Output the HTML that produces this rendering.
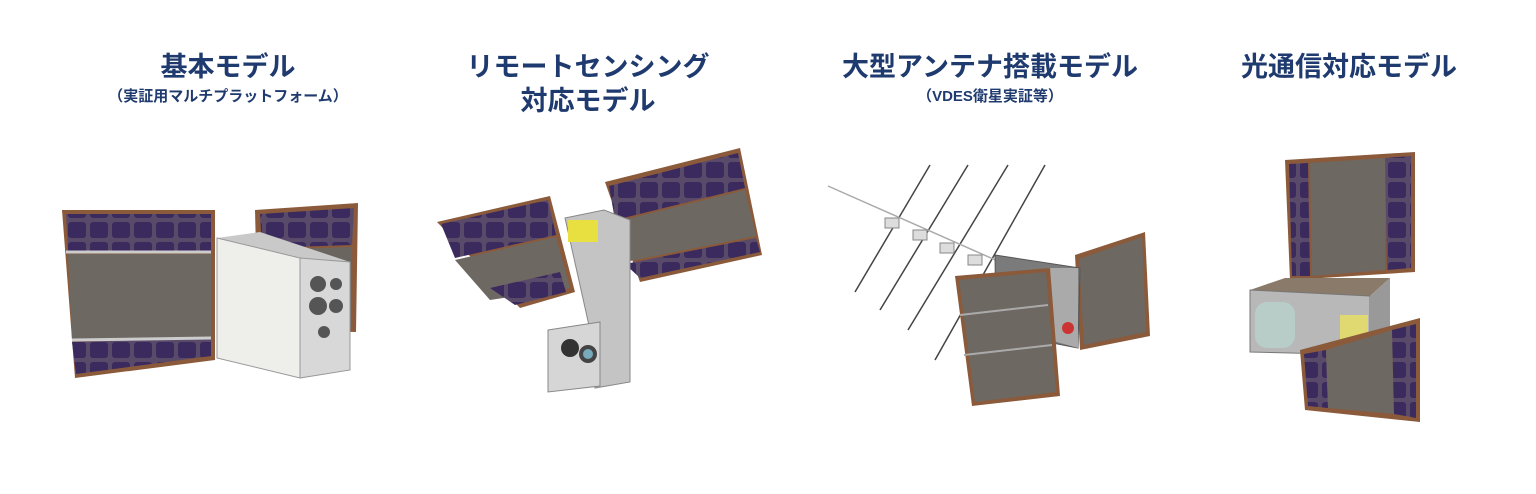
<!DOCTYPE html>
<html><head><meta charset="utf-8"><style>
html,body{margin:0;padding:0;background:#fff;width:1536px;height:494px;overflow:hidden}
svg{display:block}
text{font-family:"Liberation Sans","Noto Sans CJK JP",sans-serif;font-weight:bold;fill:#1f3a6e;text-anchor:middle}
</style></head><body>
<svg width="1536" height="494" viewBox="0 0 1536 494" xmlns="http://www.w3.org/2000/svg">
<defs>
<pattern id="cells" width="22" height="20" patternUnits="userSpaceOnUse">
<rect width="22" height="20" fill="#5a4a6a"/><rect x="2" y="2" width="18" height="16" rx="3" fill="#3a2a5e"/>
</pattern>
</defs>
<text x="228" y="76" font-size="27">基本モデル</text>
<text x="228" y="101" font-size="15">（実証用マルチプラットフォーム）</text>
<text x="588" y="76" font-size="27">リモートセンシング</text>
<text x="588" y="110" font-size="27">対応モデル</text>
<text x="990" y="76" font-size="27">大型アンテナ搭載モデル</text>
<text x="990" y="101" font-size="15">（VDES衛星実証等）</text>
<text x="1349" y="76" font-size="27">光通信対応モデル</text>

<!-- Satellite 1 -->
<polygon points="255,210 358,203 356,332 258,330" fill="#8a5a3a"/>
<polygon points="260,214 354,208 352,245 262,248" fill="url(#cells)"/>
<polygon points="262,250 352,247 351,328 262,326" fill="#6b6560"/>
<polygon points="62,210 215,210 215,360 75,378" fill="#8a5a3a"/>
<polygon points="66,214 211,214 211,252 68,252" fill="url(#cells)"/>
<polygon points="68,254 211,254 211,338 72,340" fill="#6e6862"/>
<polygon points="72,342 211,338 211,356 76,374" fill="url(#cells)"/>
<line x1="66" y1="252" x2="211" y2="252" stroke="#ccc" stroke-width="3"/>
<line x1="72" y1="340" x2="211" y2="338" stroke="#ccc" stroke-width="3"/>
<polygon points="217,238 260,232 350,262 300,258" fill="#c9c9c9"/>
<polygon points="217,238 300,258 300,378 217,358" fill="#eeeeea" stroke="#999"/>
<polygon points="300,258 350,262 350,370 300,378" fill="#d8d8d8" stroke="#999"/>
<circle cx="318" cy="284" r="8" fill="#555"/><circle cx="336" cy="284" r="6" fill="#555"/>
<circle cx="318" cy="306" r="9" fill="#555"/><circle cx="336" cy="306" r="7" fill="#555"/>
<circle cx="324" cy="332" r="6" fill="#555"/>

<!-- Satellite 2 -->
<polygon points="605,182 740,148 762,255 640,282" fill="#8a5a3a"/>
<polygon points="609,186 738,153 745,188 615,220" fill="url(#cells)"/>
<polygon points="615,222 745,190 756,236 625,262" fill="#6e6862"/>
<polygon points="625,264 756,238 760,252 640,278" fill="url(#cells)"/>
<polygon points="437,222 550,196 575,292 520,308" fill="#8a5a3a"/>
<polygon points="441,224 548,200 556,235 455,258" fill="url(#cells)"/>
<polygon points="455,260 556,237 570,288 490,300" fill="#6e6862"/>
<polygon points="490,288 560,272 566,292 515,305" fill="url(#cells)"/>
<polygon points="565,218 604,210 630,220 630,382 595,388 590,330" fill="#c4c4c4" stroke="#888"/>
<rect x="568" y="220" width="30" height="22" fill="#e8e040"/>
<polygon points="548,330 600,322 600,386 548,392" fill="#d6d6d6" stroke="#888"/>
<circle cx="570" cy="348" r="9" fill="#333"/><circle cx="588" cy="354" r="9" fill="#444"/>
<circle cx="588" cy="354" r="5" fill="#7ab"/>

<!-- Satellite 3 -->
<g stroke="#444" stroke-width="1.5">
<line x1="930" y1="165" x2="855" y2="292"/><line x1="968" y1="165" x2="880" y2="310"/>
<line x1="1008" y1="165" x2="908" y2="330"/><line x1="1045" y1="165" x2="935" y2="360"/>
<line x1="828" y1="186" x2="1000" y2="262" stroke="#aaa"/>
</g>
<g fill="#ddd" stroke="#888"><rect x="885" y="218" width="14" height="10"/><rect x="913" y="230" width="14" height="10"/><rect x="940" y="243" width="14" height="10"/><rect x="968" y="255" width="14" height="10"/></g>
<polygon points="1075,255 1145,232 1150,336 1080,350" fill="#8a5a3a"/>
<polygon points="1079,259 1142,237 1146,332 1084,345" fill="#6e6862"/>
<polygon points="995,255 1080,268 1078,348 996,332" fill="#7b7b7b" stroke="#555"/>
<polygon points="1048,268 1078,268 1078,348 1050,340" fill="#aaa"/>
<circle cx="1068" cy="328" r="6" fill="#c33"/>
<polygon points="955,276 1050,268 1060,396 972,406" fill="#8a5a3a"/>
<polygon points="959,280 1046,272 1056,392 975,402" fill="#6e6862"/>
<g stroke="#aaa" stroke-width="2"><line x1="960" y1="315" x2="1048" y2="305"/><line x1="964" y1="355" x2="1052" y2="345"/></g>

<!-- Satellite 4 -->
<polygon points="1285,160 1415,152 1415,272 1290,280" fill="#8a5a3a"/>
<polygon points="1289,164 1308,163 1310,276 1292,276" fill="url(#cells)"/>
<polygon points="1310,163 1385,158 1385,270 1312,276" fill="#6e6862"/>
<polygon points="1385,158 1411,156 1411,268 1387,270" fill="url(#cells)"/>
<polygon points="1250,290 1285,278 1390,278 1370,296" fill="#8a7a6a"/>
<polygon points="1250,290 1370,296 1370,355 1250,352" fill="#b8b8b8" stroke="#777"/>
<polygon points="1370,296 1390,278 1390,340 1370,355" fill="#999"/>
<rect x="1255" y="302" width="40" height="46" rx="12" fill="#b8ccc8"/>
<rect x="1340" y="315" width="28" height="32" fill="#e0d870"/>
<polygon points="1300,350 1420,318 1420,422 1305,410" fill="#8a5a3a"/>
<polygon points="1304,354 1326,350 1328,408 1308,406" fill="url(#cells)"/>
<polygon points="1326,350 1392,330 1394,414 1328,408" fill="#6e6862"/>
<polygon points="1392,330 1416,324 1416,418 1394,414" fill="url(#cells)"/>
</svg>
</body></html>
